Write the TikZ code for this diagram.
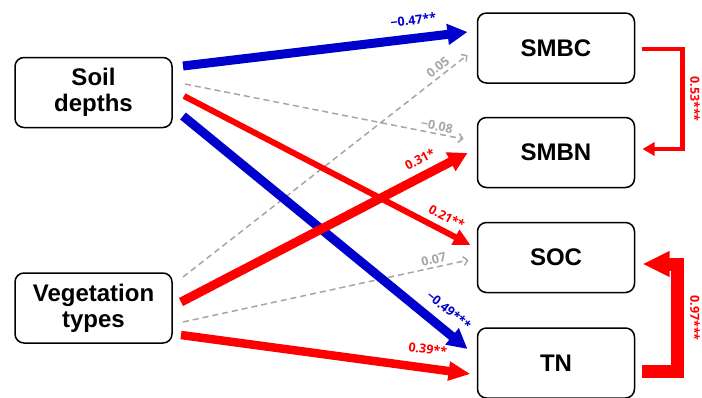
\documentclass[tikz,border=0pt]{standalone}
\usepackage{fontspec}
\setmainfont{Liberation Sans}
\newfontfamily\labfont{Open Sans}
\usetikzlibrary{arrows.meta}
\definecolor{pblue}{RGB}{0,0,204}
\definecolor{pred}{RGB}{255,0,0}
\definecolor{pgray}{RGB}{166,166,166}
\begin{document}
\begin{tikzpicture}[x=1pt,y=-1pt,
  box/.style={draw=black, line width=1.5pt, rounded corners=9pt, minimum width=157pt,
    minimum height=70pt, inner sep=0pt, outer sep=0pt, align=center,
    font=\fontsize{24}{26}\selectfont\bfseries},
  lab/.style={font=\labfont\bfseries\fontsize{12.5}{12.5}\selectfont, inner sep=1pt},
  grayarrow/.style={draw=pgray, line width=1.5pt, dash pattern=on 6pt off 4pt,
    -{Straight Barb[length=4pt,width=9pt]}},
  bluearrow/.style={draw=pblue, line width=9pt, -{Triangle[length=20pt,width=20pt]}},
  redarrow/.style={draw=pred, line width=#1, -{Triangle[length=19pt,width=19pt]}},
]
\useasboundingbox (0,0) rectangle (702,397);
\node[box] (sd) at (93.5,92.5) {Soil\\depths};
\node[box] (vt) at (93.5,308) {Vegetation\\types};
\node[box] (smbc) at (556,48) {SMBC};
\node[box] (smbn) at (556,152.5) {SMBN};
\node[box] (soc) at (556,257.5) {SOC};
\node[box] (tn) at (556,363) {TN};

% gray dashed
\draw[grayarrow] ([shift={(13,-8.5)}]sd.east) -- ([shift={(-14,-13.5)}]smbn.west)
  node[lab, text=pgray, sloped, pos=0.90, above=1pt] {−0.08};
\draw[grayarrow] ([shift={(11,-31)}]vt.east) -- ([shift={(-10,7)}]smbc.west)
  node[lab, text=pgray, sloped, pos=0.915, above=2.5pt] {0.05};
\draw[grayarrow] ([shift={(11,14)}]vt.east) -- ([shift={(-9,2.5)}]soc.west)
  node[lab, text=pgray, sloped, pos=0.884, above=1.5pt] {0.07};

% blue
\draw[bluearrow] ([shift={(11,-26.5)}]sd.east) -- ([shift={(-10,-16)}]smbc.west)
  node[lab, text=pblue, sloped, pos=0.817, above=8pt] {−0.47**};
\draw[bluearrow] ([shift={(11,23.5)}]sd.east) -- ([shift={(-10,-14)}]tn.west)
  node[lab, text=pblue, sloped, pos=0.894, above=8pt] {−0.49***};

% red
\draw[redarrow=6pt, -{Triangle[length=17pt,width=16pt]}] ([shift={(12,3.5)}]sd.east) -- ([shift={(-7,-12.5)}]soc.west)
  node[lab, text=pred, sloped, pos=0.895, above=5pt] {0.21**};
\draw[redarrow=9pt, -{Triangle[length=19pt,width=20pt]}] ([shift={(9,-6)}]vt.east) -- ([shift={(-10,0.5)}]smbn.west)
  node[lab, text=pred, sloped, pos=0.86, above=6pt] {0.31*};
\draw[redarrow=8.5pt, -{Triangle[length=22pt,width=18pt]}] ([shift={(9,27)}]vt.east) -- ([shift={(-7,11)}]tn.west)
  node[lab, text=pred, sloped, pos=0.844, above=9pt] {0.39**};

% elbows
\draw[draw=pred, line width=4.5pt, line join=miter, -{Triangle[length=12pt,width=13pt]}]
  ([shift={(7,1)}]smbc.east) -- ++(41,0) |- ([shift={(8,-3.5)}]smbn.east);
\node[lab, text=pred, rotate=-90] (l53) at (695,99) {0.53***};
\draw[draw=pred, line width=13pt, line join=miter, -{Triangle[length=27pt,width=24pt]}]
  ([shift={(7,8)}]tn.east) -- ++(36,0) |- ([shift={(8,6.5)}]soc.east);
\node[lab, text=pred, rotate=-90] (l97) at (695,318) {0.97***};
\end{tikzpicture}
\end{document}
